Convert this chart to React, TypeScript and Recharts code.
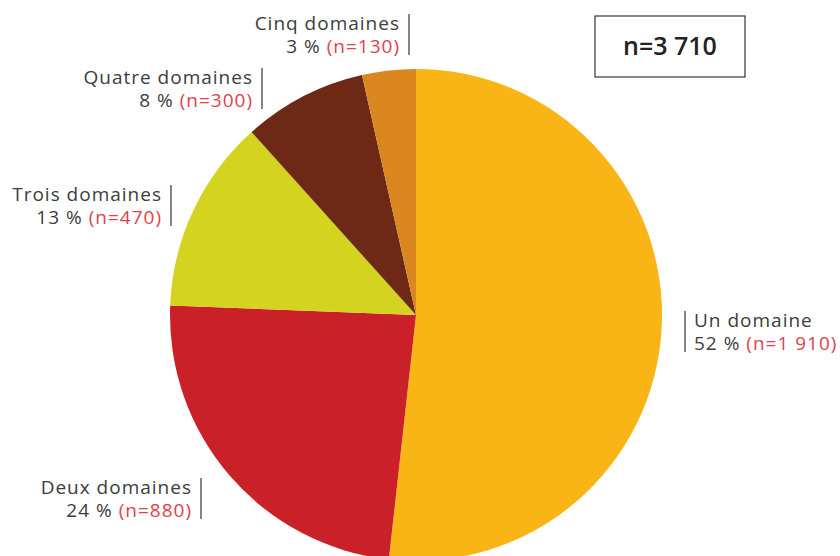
import React from 'react';
import { PieChart, Pie, Cell } from 'recharts';

const categories = ['Un domaine', 'Deux domaines', 'Trois domaines', 'Quatre domaines', 'Cinq domaines'];
const counts = [1910, 880, 470, 300, 130];
const percentLabels = ['52 %', '24 %', '13 %', '8 %', '3 %'];
const countLabels = ['(n=1 910)', '(n=880)', '(n=470)', '(n=300)', '(n=130)'];
const colors = ['#F9B515', '#CA2028', '#D4D31F', '#6D2916', '#DA871F'];
const totalLabel = 'n=3 710';

// where each label sits (x of its divider line, top of the line) and which side the text goes
const labelLayout = [
    { x: 685, y: 311, side: 'right' },
    { x: 201, y: 478, side: 'left' },
    { x: 171, y: 185, side: 'left' },
    { x: 262, y: 68, side: 'left' },
    { x: 409, y: 14, side: 'left' },
];

const data = categories.map((name, i) => ({
    name,
    value: counts[i],
    pct: percentLabels[i],
    n: countLabels[i],
}));

const font = '"Open Sans", sans-serif';

const renderLabel = (props: any) => {
    const { index } = props;
    const d = data[index];
    const l = labelLayout[index];
    const right = l.side === 'right';
    const tx = right ? l.x + 9 : l.x - 9;
    const anchor = right ? 'start' : 'end';
    return (
        <g key={`lbl-${index}`}>
            <line x1={l.x} y1={l.y} x2={l.x} y2={l.y + 41} stroke="#333" strokeWidth={1.2} />
            <text x={tx} y={l.y + 16} textAnchor={anchor} fontFamily={font} fontSize={19} letterSpacing={1} fill="#3c3c3c">
                {d.name}
            </text>
            <text x={tx} y={l.y + 39} textAnchor={anchor} fontFamily={font} fontSize={19} letterSpacing={1} fill="#3c3c3c">
                {d.pct + ' '}
                <tspan fill="#E0414A">{d.n}</tspan>
            </text>
        </g>
    );
};

export default function App() {
    return (
        <div style={{ position: 'absolute', left: 0, top: 0, width: 840, height: 556, background: '#fff' }}>
            <PieChart width={840} height={556} margin={{ top: 0, right: 0, bottom: 0, left: 0 }}>
                <Pie
                    data={data}
                    dataKey="value"
                    cx={416}
                    cy={315}
                    outerRadius={246}
                    startAngle={90}
                    endAngle={-270}
                    stroke="none"
                    label={renderLabel}
                    labelLine={false}
                    isAnimationActive={false}
                >
                    {data.map((d, i) => (
                        <Cell key={d.name} fill={colors[i]} />
                    ))}
                </Pie>
                <rect x={595} y={16} width={150} height={61} fill="#fff" stroke="#333" strokeWidth={1.2} />
                <text x={670} y={55} textAnchor="middle" fontFamily={font} fontSize={25} fontWeight={600} fill="#222">
                    {totalLabel}
                </text>
            </PieChart>
        </div>
    );
}
